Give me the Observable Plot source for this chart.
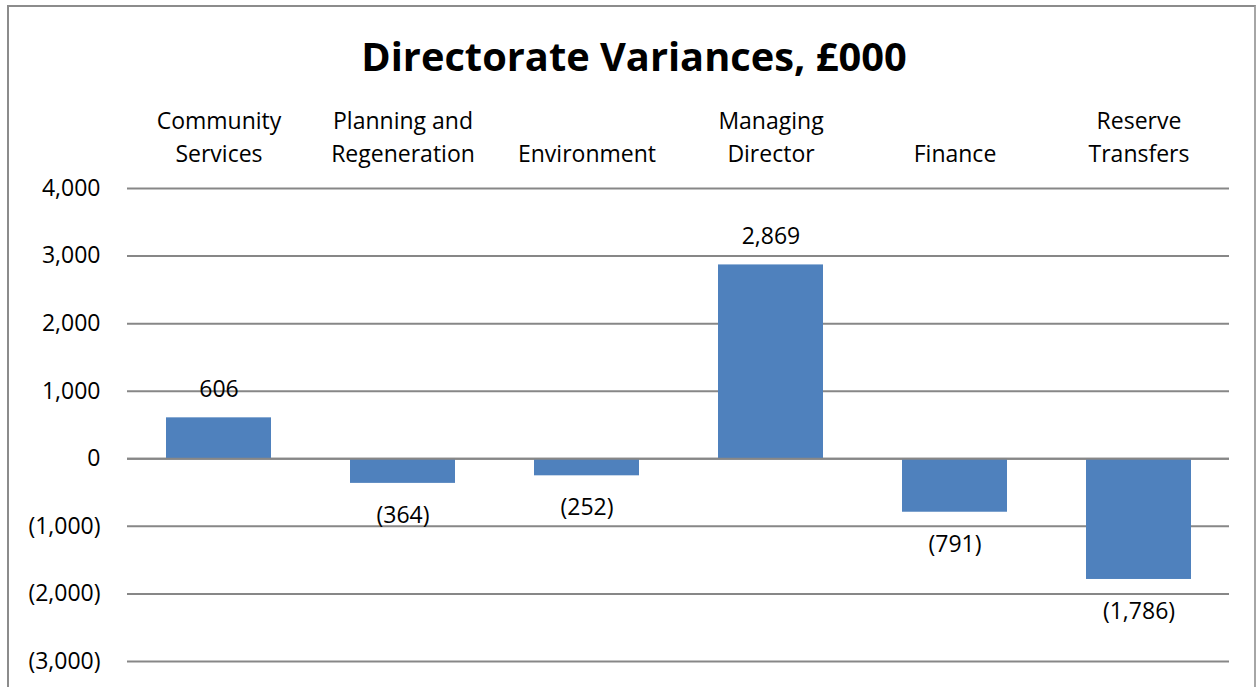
<!DOCTYPE html>
<html>
<head>
<meta charset="utf-8">
<script src="https://cdn.jsdelivr.net/npm/d3@7"></script>
<script src="https://cdn.jsdelivr.net/npm/@observablehq/plot@0.6"></script>
<style>
  html, body { margin: 0; padding: 0; background: #fff; }
  #wrap { position: relative; width: 1259px; height: 687px; overflow: hidden; font-family: "Open Sans", sans-serif; }
  #border { position: absolute; left: 7px; top: 5px; width: 1249px; height: 700px; border: 2px solid #8c8c8c; border-right-color: #a6a6a6; box-sizing: border-box; }
  #title { position: absolute; left: 0; width: 1268px; top: 29px; text-align: center; font-weight: bold; font-size: 39.8px; color: #000; line-height: 54px; }
  #chart { position: absolute; left: 0; top: 0; }
</style>
</head>
<body>
<div id="wrap">
  <div id="border"></div>
  <div id="chart"></div>
  <div id="title">Directorate Variances, £000</div>
</div>
<script>
const categories = ["Community\nServices", "Planning and\nRegeneration", "Environment", "Managing\nDirector", "Finance", "Reserve\nTransfers"];
const values = [606, -364, -252, 2869, -791, -1786];
const yTicks = [4000, 3000, 2000, 1000, 0, -1000, -2000, -3000];

const data = categories.map((c, i) => ({category: c, value: values[i]}));
const fmt = v => v < 0 ? "(" + d3.format(",")(-v) + ")" : d3.format(",")(v);

const chart = Plot.plot({
  width: 1259,
  height: 687,
  marginTop: 188,
  marginBottom: 26,
  marginLeft: 127,
  marginRight: 30,
  style: {fontFamily: "Open Sans, sans-serif", fontSize: "23px", color: "#000", background: "transparent"},
  x: {domain: categories, paddingInner: 0.43, paddingOuter: 0.208, label: null},
  y: {domain: [-3000, 4000], label: null},
  marks: [
    Plot.ruleY(yTicks, {stroke: "#878787", strokeWidth: 2, strokeOpacity: 1}),
    Plot.barY(data, {x: "category", y: "value", fill: "#4f81bd"}),
    Plot.ruleY([0], {stroke: "#878787", strokeWidth: 2, strokeOpacity: 1}),
    Plot.text(data.filter(d => d.value >= 0), {x: "category", y: "value", text: d => fmt(d.value), dy: -28, fontSize: 23, fill: "#000"}),
    Plot.text(data.filter(d => d.value < 0), {x: "category", y: "value", text: d => fmt(d.value), dy: 32, fontSize: 23, fill: "#000"}),
    Plot.axisX({anchor: "top", tickSize: 0, tickPadding: 27, fontSize: 23, lineHeight: 1.43, label: null, fill: "#000"}),
    Plot.axisY({ticks: yTicks, tickFormat: fmt, tickSize: 0, tickPadding: 27, fontSize: 23, label: null, fill: "#000"})
  ]
});
document.getElementById("chart").appendChild(chart);
</script>
</body>
</html>
